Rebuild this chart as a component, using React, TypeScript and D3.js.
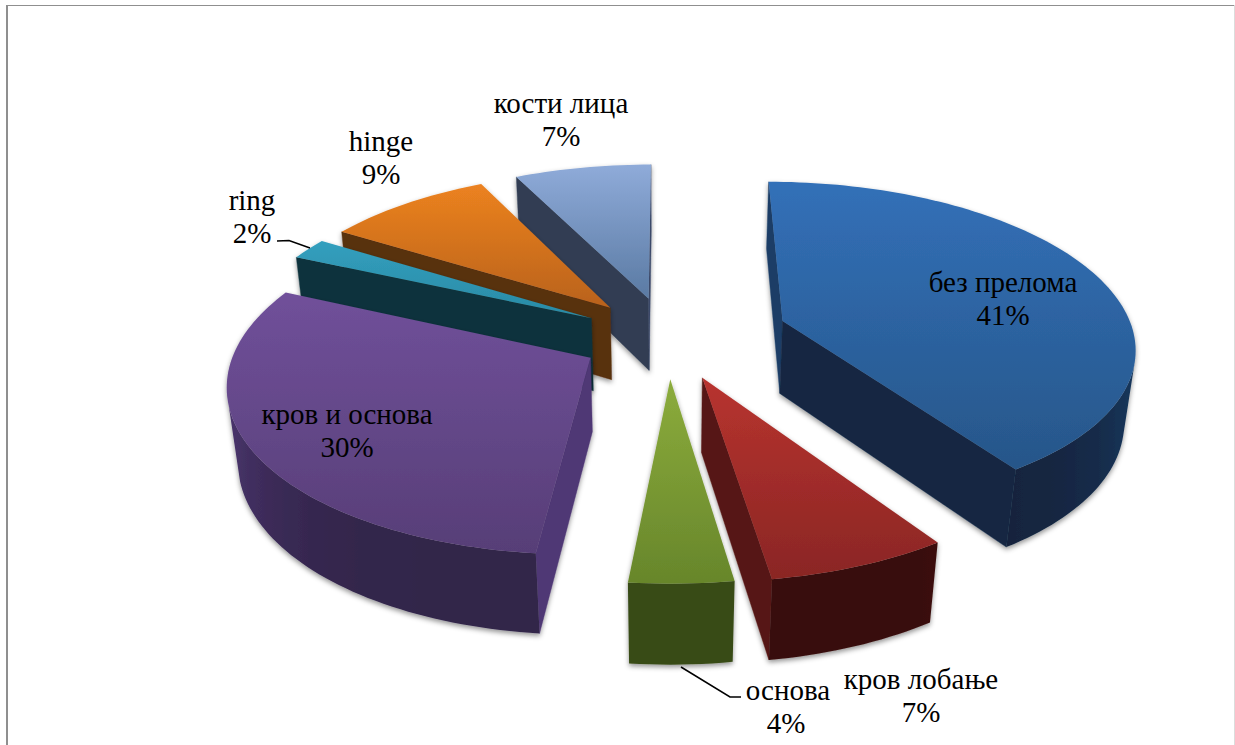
import React from "react";
import * as d3 from "d3";

// Fracture type shares, in percent, clockwise from twelve o'clock.
const categories = ["без прелома", "кров лобање", "основа", "кров и основа", "ring", "hinge", "кости лица"];
const shares = [40.6, 7.0, 4.0, 30.1, 2.1, 8.9, 7.3];

// How far each slice is pulled out of the pie, in pie radii.
const explosion = [0.345, 0.26, 0.25, 0.25, 0.25, 0.25, 0.25];

const topLight = ["#3270b8", "#b8332f", "#8cac3c", "#70509a", "#329fbe", "#ec8220", "#8fabd9"];
const topDark = ["#275689", "#8a2624", "#67862b", "#573e77", "#2a8aa5", "#b9621b", "#5a7aa3"];
const wallDark = ["#11233c", "#380d0b", "#384b17", "#32254a", "#0f333c", "#59300c", "#2c3648"];
const wallLight = ["#1b3d66", "#5a1715", "#4a6520", "#503876", "#164a57", "#70400f", "#3c4a6a"];

const labelLines = [
  { x: 1003, y: 292, x2: 1003 },
  { x: 921, y: 689, x2: 921 },
  { x: 788, y: 700, x2: 786 },
  { x: 347, y: 424, x2: 347 },
  { x: 252, y: 210, x2: 252 },
  { x: 381, y: 151, x2: 381 },
  { x: 561, y: 113, x2: 561 },
];

const leaderLines: [number, number][][] = [
  [[277, 241], [289, 240.5], [310, 248]],
  [[681, 667], [730, 697], [741, 697]],
];

// Perspective camera over the pie plane.
const originX = 668;
const originY = 337;
const radiusX = 352;
const radiusZ = 162.8;
const depthGain = 0.14;
const thicknessGain = 0.025;
const thicknessDrop = 75;

// Projects a point on the pie plane; level 0 is the top face, level 1 the bottom face.
function project(x: number, z: number, level: number): [number, number] {
  const w = 1 + depthGain * z + thicknessGain * level;
  return [originX + (radiusX * x) / w, originY + (-radiusZ * z + thicknessDrop * level) / w];
}

const closed = d3.line().curve(d3.curveLinearClosed);

const slices = d3.pie<number>().sort(null).value((d) => d)(shares);

function Slice({ index }: { index: number }) {
  const s = slices[index];
  const mid = (s.startAngle + s.endAngle) / 2;
  const ox = explosion[index] * Math.sin(mid);
  const oz = explosion[index] * Math.cos(mid);
  const tone = d3.scaleLinear<string>().domain([0, 1]).range([wallDark[index], wallLight[index]]);
  const steps = Math.max(8, Math.round((s.endAngle - s.startAngle) * 40));
  const angle = d3.scaleLinear().domain([0, steps]).range([s.startAngle, s.endAngle]);
  const rim = d3.range(steps + 1).map((i) => angle(i));
  const onRim = (a: number): [number, number] => [ox + Math.sin(a), oz + Math.cos(a)];

  const face = (p: [number, number], q: [number, number]): [number, number][] => [
    project(p[0], p[1], 0),
    project(q[0], q[1], 0),
    project(q[0], q[1], 1),
    project(p[0], p[1], 1),
  ];
  const tip: [number, number] = [ox, oz];
  const visible = (pts: [number, number][]) => d3.polygonArea(pts) > 0;

  // Flat radial walls: those seen edge-on to the light come out lighter.
  const walls: { pts: [number, number][]; t: number }[] = [];
  const startFace = face(tip, onRim(s.startAngle));
  const endFace = face(onRim(s.endAngle), tip);
  if (visible(startFace)) walls.push({ pts: startFace, t: Math.abs(Math.cos(s.startAngle)) ** 10 });
  if (visible(endFace)) walls.push({ pts: endFace, t: Math.abs(Math.cos(s.endAngle)) ** 10 });

  // The curved wall is one polygon, shaded across its width.
  const shown = rim.filter((a, i) => {
    const neighbour = i < steps ? rim[i + 1] : rim[i - 1];
    const quad = i < steps ? face(onRim(a), onRim(neighbour)) : face(onRim(neighbour), onRim(a));
    return visible(quad);
  });
  const upper = shown.map((a) => project(onRim(a)[0], onRim(a)[1], 0));
  const lower = shown.map((a) => project(onRim(a)[0], onRim(a)[1], 1));
  const xs = upper.map((p) => p[0]);
  const [x0, x1] = [d3.min(xs) ?? 0, d3.max(xs) ?? 1];
  const offset = d3.scaleLinear().domain([x0, x1]).range([0, 100]);

  const topOutline: [number, number][] = [
    project(tip[0], tip[1], 0),
    ...rim.map((a) => project(onRim(a)[0], onRim(a)[1], 0)),
  ];
  return (
    <g filter="url(#sliceShadow)">
      <linearGradient id={`rim${index}`} gradientUnits="userSpaceOnUse" x1={x0} y1={0} x2={x1} y2={0}>
        {d3
          .sort(shown, (a) => project(onRim(a)[0], onRim(a)[1], 0)[0])
          .map((a, i) => (
            <stop
              key={i}
              offset={`${offset(project(onRim(a)[0], onRim(a)[1], 0)[0])}%`}
              stopColor={tone(Math.abs(Math.sin(a)) ** 5)}
            />
          ))}
      </linearGradient>
      {walls.map((w, i) => (
        <path key={i} d={closed(w.pts) ?? ""} fill={tone(w.t)} stroke={tone(w.t)} strokeWidth={0.4} strokeLinejoin="round" />
      ))}
      {shown.length > 1 && (
        <path d={closed([...upper, ...[...lower].reverse()]) ?? ""} fill={`url(#rim${index})`} />
      )}
      <path d={closed(topOutline) ?? ""} fill={`url(#top${index})`} />
    </g>
  );
}

// Back slices first, so nearer ones paint over them.
const paintOrder = [6, 5, 4, 3, 0, 1, 2];

export default function App() {
  const pct = d3.format(".0f");
  return (
    <svg
      width={1235}
      height={745}
      viewBox="0 0 1235 745"
      style={{ position: "absolute", left: 0, top: 0, display: "block", background: "#fff" }}
    >
      <defs>
        <filter id="sliceShadow" x="-10%" y="-10%" width="120%" height="120%">
          <feDropShadow dx={0} dy={2.5} stdDeviation={2.6} floodColor="#000" floodOpacity={0.42} />
        </filter>
        {categories.map((_, i) => (
          <linearGradient key={i} id={`top${i}`} x1={0} y1={0} x2={0} y2={1}>
            <stop offset="0%" stopColor={topLight[i]} />
            <stop offset="100%" stopColor={topDark[i]} />
          </linearGradient>
        ))}
      </defs>
      <rect x={6} y={5} width={1229} height={1} fill="#8f8f8f" />
      <rect x={6} y={5} width={2} height={740} fill="#8f8f8f" />
      <rect x={1234} y={5} width={1} height={740} fill="#dcdcdc" />
      {paintOrder.map((i) => (
        <Slice key={i} index={i} />
      ))}
      {leaderLines.map((pts, i) => (
        <path key={i} d={d3.line()(pts) ?? ""} fill="none" stroke="#000" strokeWidth={1.5} />
      ))}
      <g fontFamily="'Liberation Serif'" fontSize={29} fill="#000" textAnchor="middle">
        {categories.map((c, i) => (
          <text key={c}>
            <tspan x={labelLines[i].x} y={labelLines[i].y}>{c}</tspan>
            <tspan x={labelLines[i].x2} y={labelLines[i].y + 33}>{pct(shares[i])}%</tspan>
          </text>
        ))}
      </g>
    </svg>
  );
}
